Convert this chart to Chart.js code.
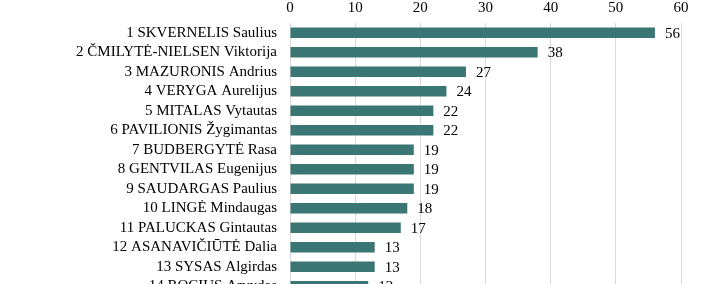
<!DOCTYPE html>
<html>
<head>
<meta charset="utf-8">
<script src="https://cdn.jsdelivr.net/npm/chart.js@4/dist/chart.umd.min.js"></script>
<style>
html,body{margin:0;padding:0;background:#fff;overflow:hidden;width:707px;height:284px;}
canvas{display:block;}
</style>
</head>
<body>
<canvas id="c" width="707" height="284" style="width:707px;height:284px;"></canvas>
<script>
const categories = [
  "1 SKVERNELIS Saulius",
  "2 ČMILYTĖ-NIELSEN Viktorija",
  "3 MAZURONIS Andrius",
  "4 VERYGA Aurelijus",
  "5 MITALAS Vytautas",
  "6 PAVILIONIS Žygimantas",
  "7 BUDBERGYTĖ Rasa",
  "8 GENTVILAS Eugenijus",
  "9 SAUDARGAS Paulius",
  "10 LINGĖ Mindaugas",
  "11 PALUCKAS Gintautas",
  "12 ASANAVIČIŪTĖ Dalia",
  "13 SYSAS Algirdas",
  "14 ROCIUS Arvydas"
];
const values = [56, 38, 27, 24, 22, 22, 19, 19, 19, 18, 17, 13, 13, 12];
const xTicks = [0, 10, 20, 30, 40, 50, 60];
const Y_MIN = -0.5, Y_MAX = 12.885;

const FONT = "'Liberation Serif', 'Times New Roman', serif";

const valueLabels = {
  id: 'valueLabels',
  afterDatasetsDraw(chart) {
    const ctx = chart.ctx;
    const meta = chart.getDatasetMeta(0);
    ctx.save();
    ctx.font = "15px " + FONT;
    ctx.fillStyle = '#000';
    ctx.textAlign = 'left';
    ctx.textBaseline = 'middle';
    meta.data.forEach((bar, i) => {
      ctx.fillText(String(values[i]), bar.x + 10, bar.y + 1);
    });
    ctx.restore();
  }
};

new Chart(document.getElementById('c'), {
  type: 'bar',
  data: {
    datasets: [{
      data: values.map((v, i) => ({ x: v, y: i })),
      backgroundColor: '#3a7673',
      borderWidth: 0,
      barPercentage: 0.55,
      categoryPercentage: 1.0
    }]
  },
  options: {
    indexAxis: 'y',
    responsive: false,
    animation: false,
    layout: { padding: { left: 0, right: 26, top: 0, bottom: 0 } },
    plugins: { legend: { display: false }, tooltip: { enabled: false } },
    scales: {
      x: {
        type: 'linear',
        position: 'top',
        min: 0, max: 60,
        afterBuildTicks(axis) { axis.ticks = xTicks.map(v => ({ value: v })); },
        afterFit(axis) { axis.height = 23; },
        ticks: { color: '#000', font: { family: FONT, size: 15 }, padding: 6 },
        grid: { color: '#d9d9d9', drawTicks: false },
        border: { display: false }
      },
      y: {
        type: 'linear',
        reverse: true,
        offset: false,
        bounds: 'data',
        grace: 0,
        min: Y_MIN,
        max: Y_MAX,
        afterBuildTicks(axis) {
          axis.ticks = categories.map((c, i) => ({ value: i }));
          axis.min = Y_MIN;
          axis.max = Y_MAX;
        },
        afterFit(axis) { axis.width = 290; axis.paddingTop = 0; axis.paddingBottom = 0; },
        ticks: {
          color: '#000', font: { family: FONT, size: 15 }, padding: 13, autoSkip: false,
          callback: (v) => categories[v]
        },
        grid: { display: false, drawTicks: false, offset: false },
        border: { display: false }
      }
    }
  },
  plugins: [valueLabels]
});
</script>
</body>
</html>
